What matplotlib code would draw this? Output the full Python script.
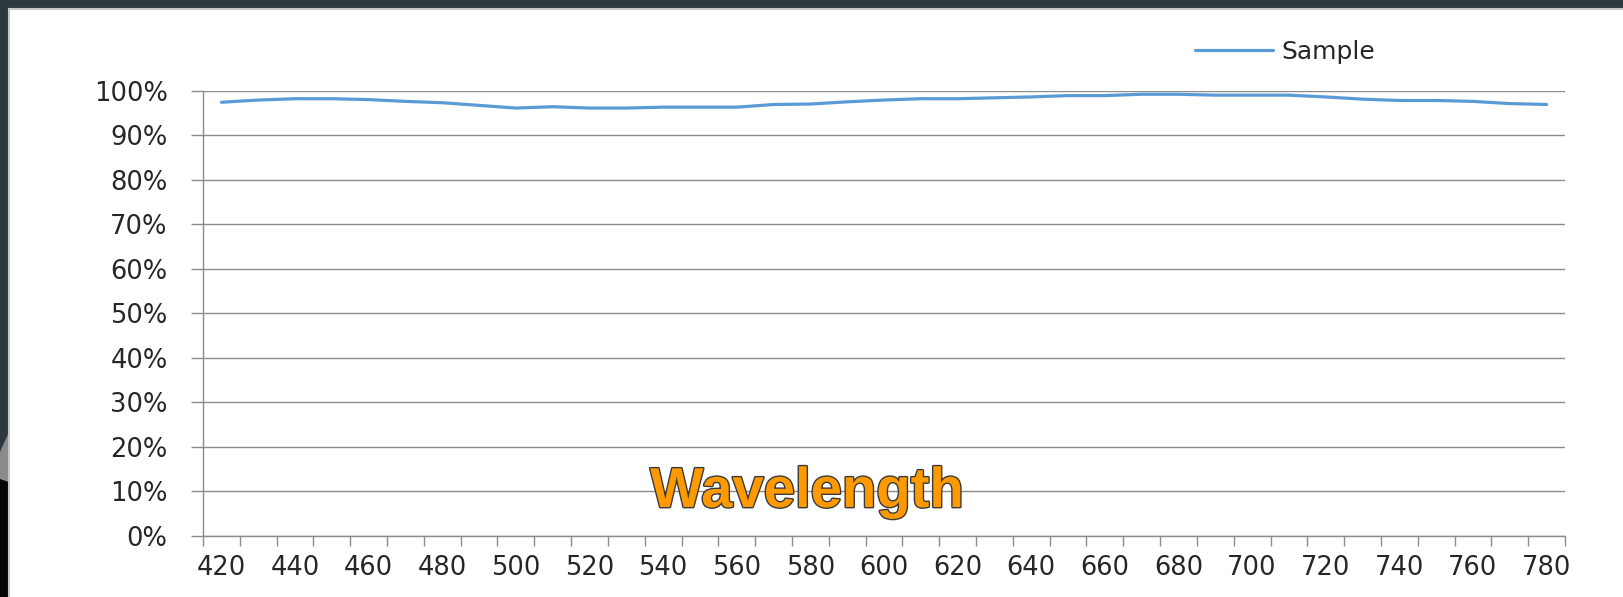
import matplotlib
matplotlib.use('Agg')
import matplotlib.pyplot as plt
import matplotlib.patheffects as pe
from matplotlib.patches import Rectangle, Polygon
from matplotlib.ticker import PercentFormatter, FixedLocator

# wavelength categories (nm) and sample transmittance (fraction)
wavelengths = list(range(420, 790, 10))
sample = [0.974, 0.979, 0.982, 0.982, 0.980, 0.976, 0.973, 0.967, 0.961, 0.964,
          0.961, 0.961, 0.963, 0.963, 0.963, 0.969, 0.970, 0.975, 0.979, 0.982,
          0.982, 0.984, 0.986, 0.989, 0.989, 0.992, 0.992, 0.990, 0.990, 0.990,
          0.986, 0.981, 0.978, 0.978, 0.976, 0.971, 0.969]
xlabels = [str(w) if (w - 420) % 20 == 0 else '' for w in wavelengths]
yticks = [i / 10 for i in range(11)]

W, H = 1623, 597
fig = plt.figure(figsize=[W / 100, H / 100], dpi=100, facecolor='#2c3a40')

# slide background bits on the left strip
fig.patches.append(Polygon([[0, 0], [9 / W, 0], [9 / W, 115 / H], [0, 118 / H]],
                           closed=True, transform=fig.transFigure, facecolor='#050505',
                           edgecolor='none', zorder=-10))
fig.patches.append(Polygon([[0, 118 / H], [9 / W, 115 / H], [9 / W, 165 / H], [0, 145 / H]],
                           closed=True, transform=fig.transFigure, facecolor='#8a8a8a',
                           edgecolor='none', zorder=-10))
# white chart panel
fig.patches.append(Rectangle((9 / W, -0.01), 1.0, 1 - 9 / H + 0.01, transform=fig.transFigure,
                             facecolor='white', edgecolor='#c8c8c8', linewidth=1.5, zorder=-9))

ax = fig.add_axes([203 / W, 1 - 535.7 / H, (1565 - 203) / W, (535.7 - 90.7) / H])
ax.set_facecolor('none')

x = list(range(len(wavelengths)))
ax.plot(x, sample, color='#5b9bd5', linewidth=2.3, label='Sample', solid_capstyle='round')

ax.set_xlim(-0.5, len(wavelengths) - 0.5)
ax.set_ylim(0, 1)
ax.yaxis.set_major_formatter(PercentFormatter(1.0, decimals=0))
ax.set_yticks(yticks)
ax.yaxis.grid(True, color='#8c8c8c', linewidth=1.0)
ax.set_axisbelow(True)

# category axis: ticks at boundaries, labels at centers
ax.xaxis.set_major_locator(FixedLocator([i - 0.5 for i in range(len(wavelengths) + 1)]))
ax.xaxis.set_major_formatter(plt.NullFormatter())
ax.xaxis.set_minor_locator(FixedLocator(x))
ax.set_xticklabels(xlabels, minor=True)
ax.tick_params(axis='x', which='major', length=7, width=1.0, color='#8c8c8c', direction='out')
ax.tick_params(axis='x', which='minor', length=0, pad=14, labelsize=18.5, labelcolor='#262626')
ax.tick_params(axis='y', length=8.5, width=1.0, color='#8c8c8c', pad=17, labelsize=18.5, labelcolor='#262626')

for s in ['top', 'right']:
    ax.spines[s].set_visible(False)
for s in ['left', 'bottom']:
    ax.spines[s].set_color('#8c8c8c')
    ax.spines[s].set_linewidth(1.0)

leg = fig.legend(loc='center left', bbox_to_anchor=(1195 / W, 1 - 51.7 / H), frameon=False,
                 fontsize=18, handlelength=3.1, handletextpad=0.35, borderpad=0, borderaxespad=0)
for t in leg.get_texts():
    t.set_color('#262626')

fig.text(807 / W, 1 - 507 / H, 'Wavelength', ha='center', va='baseline', fontsize=40.5,
         fontweight='bold', family='Liberation Sans', color='#ff9900',
         path_effects=[pe.withStroke(linewidth=2.0, foreground='#3a3a3a')])

plt.savefig('out.png', dpi=100, facecolor=fig.get_facecolor())
